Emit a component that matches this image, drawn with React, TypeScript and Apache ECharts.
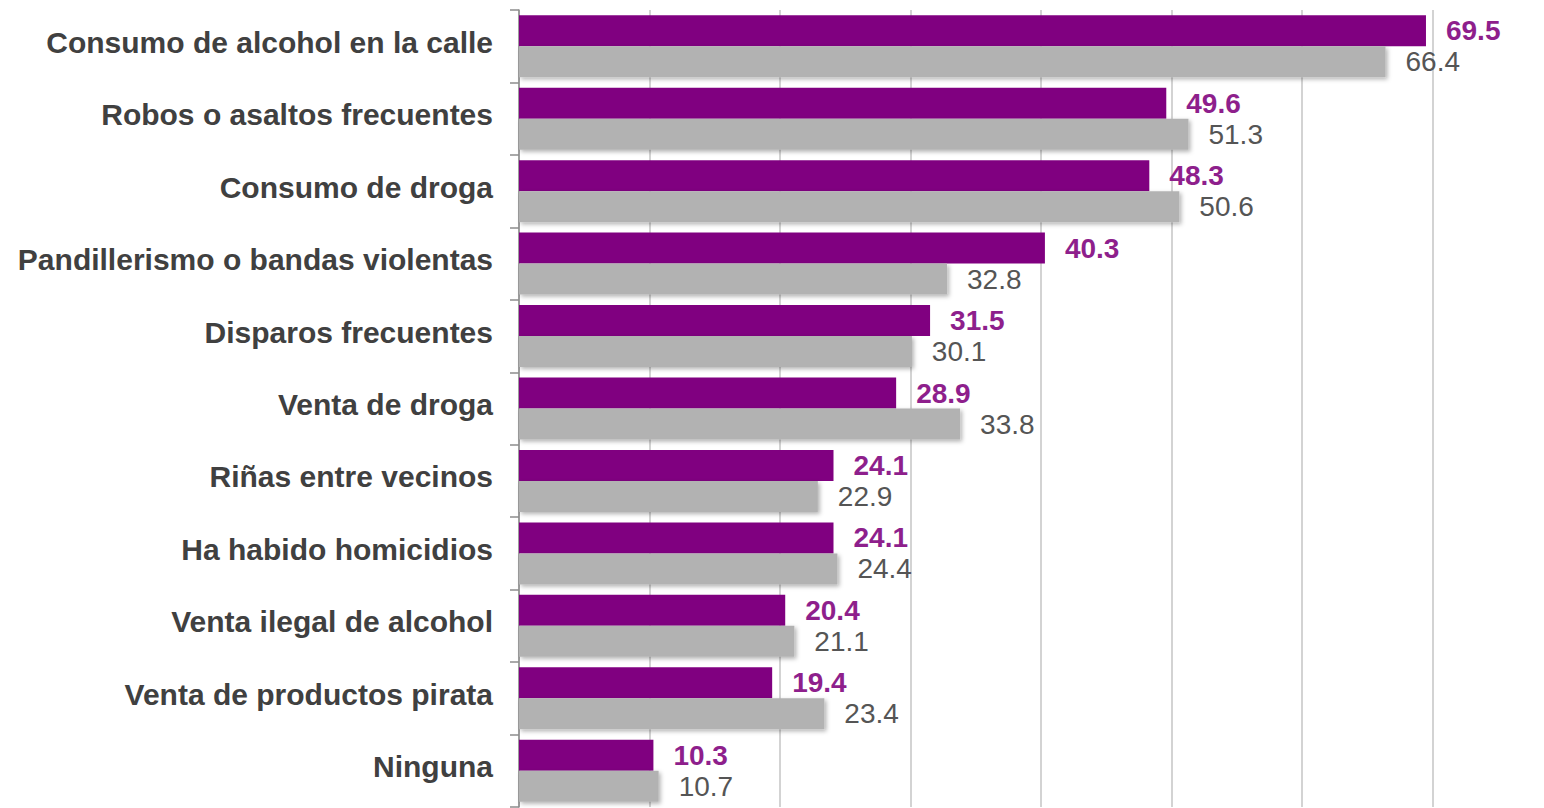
import React, { useEffect, useRef } from "react";
import * as echarts from "echarts";

const categories = [
  "Consumo de alcohol en la calle",
  "Robos o asaltos frecuentes",
  "Consumo de droga",
  "Pandillerismo o bandas violentas",
  "Disparos frecuentes",
  "Venta de droga",
  "Riñas entre vecinos",
  "Ha habido homicidios",
  "Venta ilegal de alcohol",
  "Venta de productos pirata",
  "Ninguna",
];
const seriesPurple = [69.5, 49.6, 48.3, 40.3, 31.5, 28.9, 24.1, 24.1, 20.4, 19.4, 10.3];
const seriesGray = [66.4, 51.3, 50.6, 32.8, 30.1, 33.8, 22.9, 24.4, 21.1, 23.4, 10.7];
const seriesNames = ["Serie 1", "Serie 2"];

export default function App() {
  const ref = useRef<HTMLDivElement>(null);
  useEffect(() => {
    if (!ref.current) return;
    const chart = echarts.init(ref.current, undefined, { renderer: "svg" });
    const font = "'Liberation Sans', Arial, sans-serif";
    chart.setOption({
      animation: false,
      backgroundColor: "#ffffff",
      grid: { left: 519, right: 111.5, top: 10, bottom: 1, containLabel: false },
      xAxis: {
        type: "value",
        min: 0,
        max: 70,
        interval: 10,
        axisLabel: { show: false },
        axisLine: { show: false },
        axisTick: { show: false },
        splitLine: { show: true, lineStyle: { color: "#c4c4c4", width: 1.5 } },
      },
      yAxis: {
        type: "category",
        inverse: true,
        data: categories,
        axisLine: { show: true, lineStyle: { color: "#8c8c8c", width: 1.5 } },
        axisTick: { show: true, length: 9, lineStyle: { color: "#8c8c8c", width: 1.5 } },
        axisLabel: {
          margin: 26,
          fontFamily: font,
          fontSize: 30,
          fontWeight: "bold",
          color: "#404040",
          formatter: (v: string) => "{c|" + v + "}",
          rich: {
            c: {
              fontFamily: font,
              fontSize: 30,
              fontWeight: "bold",
              color: "#404040",
              padding: [0, 0, 8, 0],
            },
          },
        },
        splitLine: { show: false },
      },
      series: [
        {
          name: seriesNames[0],
          type: "bar",
          data: seriesPurple,
          barWidth: 31,
          barGap: "0%",
          itemStyle: { color: "#800080" },
          label: {
            show: true,
            position: "right",
            distance: 20,
            fontFamily: font,
            fontSize: 28,
            fontWeight: "bold",
            color: "#8e1f8c",
            formatter: (p: any) => Number(p.value).toFixed(1),
          },
        },
        {
          name: seriesNames[1],
          type: "bar",
          data: seriesGray,
          barWidth: 31,
          barGap: "0%",
          itemStyle: {
            color: "#b2b2b2",
            shadowColor: "rgba(0,0,0,0.3)",
            shadowBlur: 4,
            shadowOffsetX: 2,
            shadowOffsetY: 2,
          },
          label: {
            show: true,
            position: "right",
            distance: 20,
            fontFamily: font,
            fontSize: 28,
            color: "#555555",
            formatter: (p: any) => Number(p.value).toFixed(1),
          },
        },
      ],
    });
    return () => chart.dispose();
  }, []);
  return (
    <div
      ref={ref}
      style={{ position: "fixed", left: 0, top: 0, width: 1544, height: 808, background: "#fff" }}
    />
  );
}
